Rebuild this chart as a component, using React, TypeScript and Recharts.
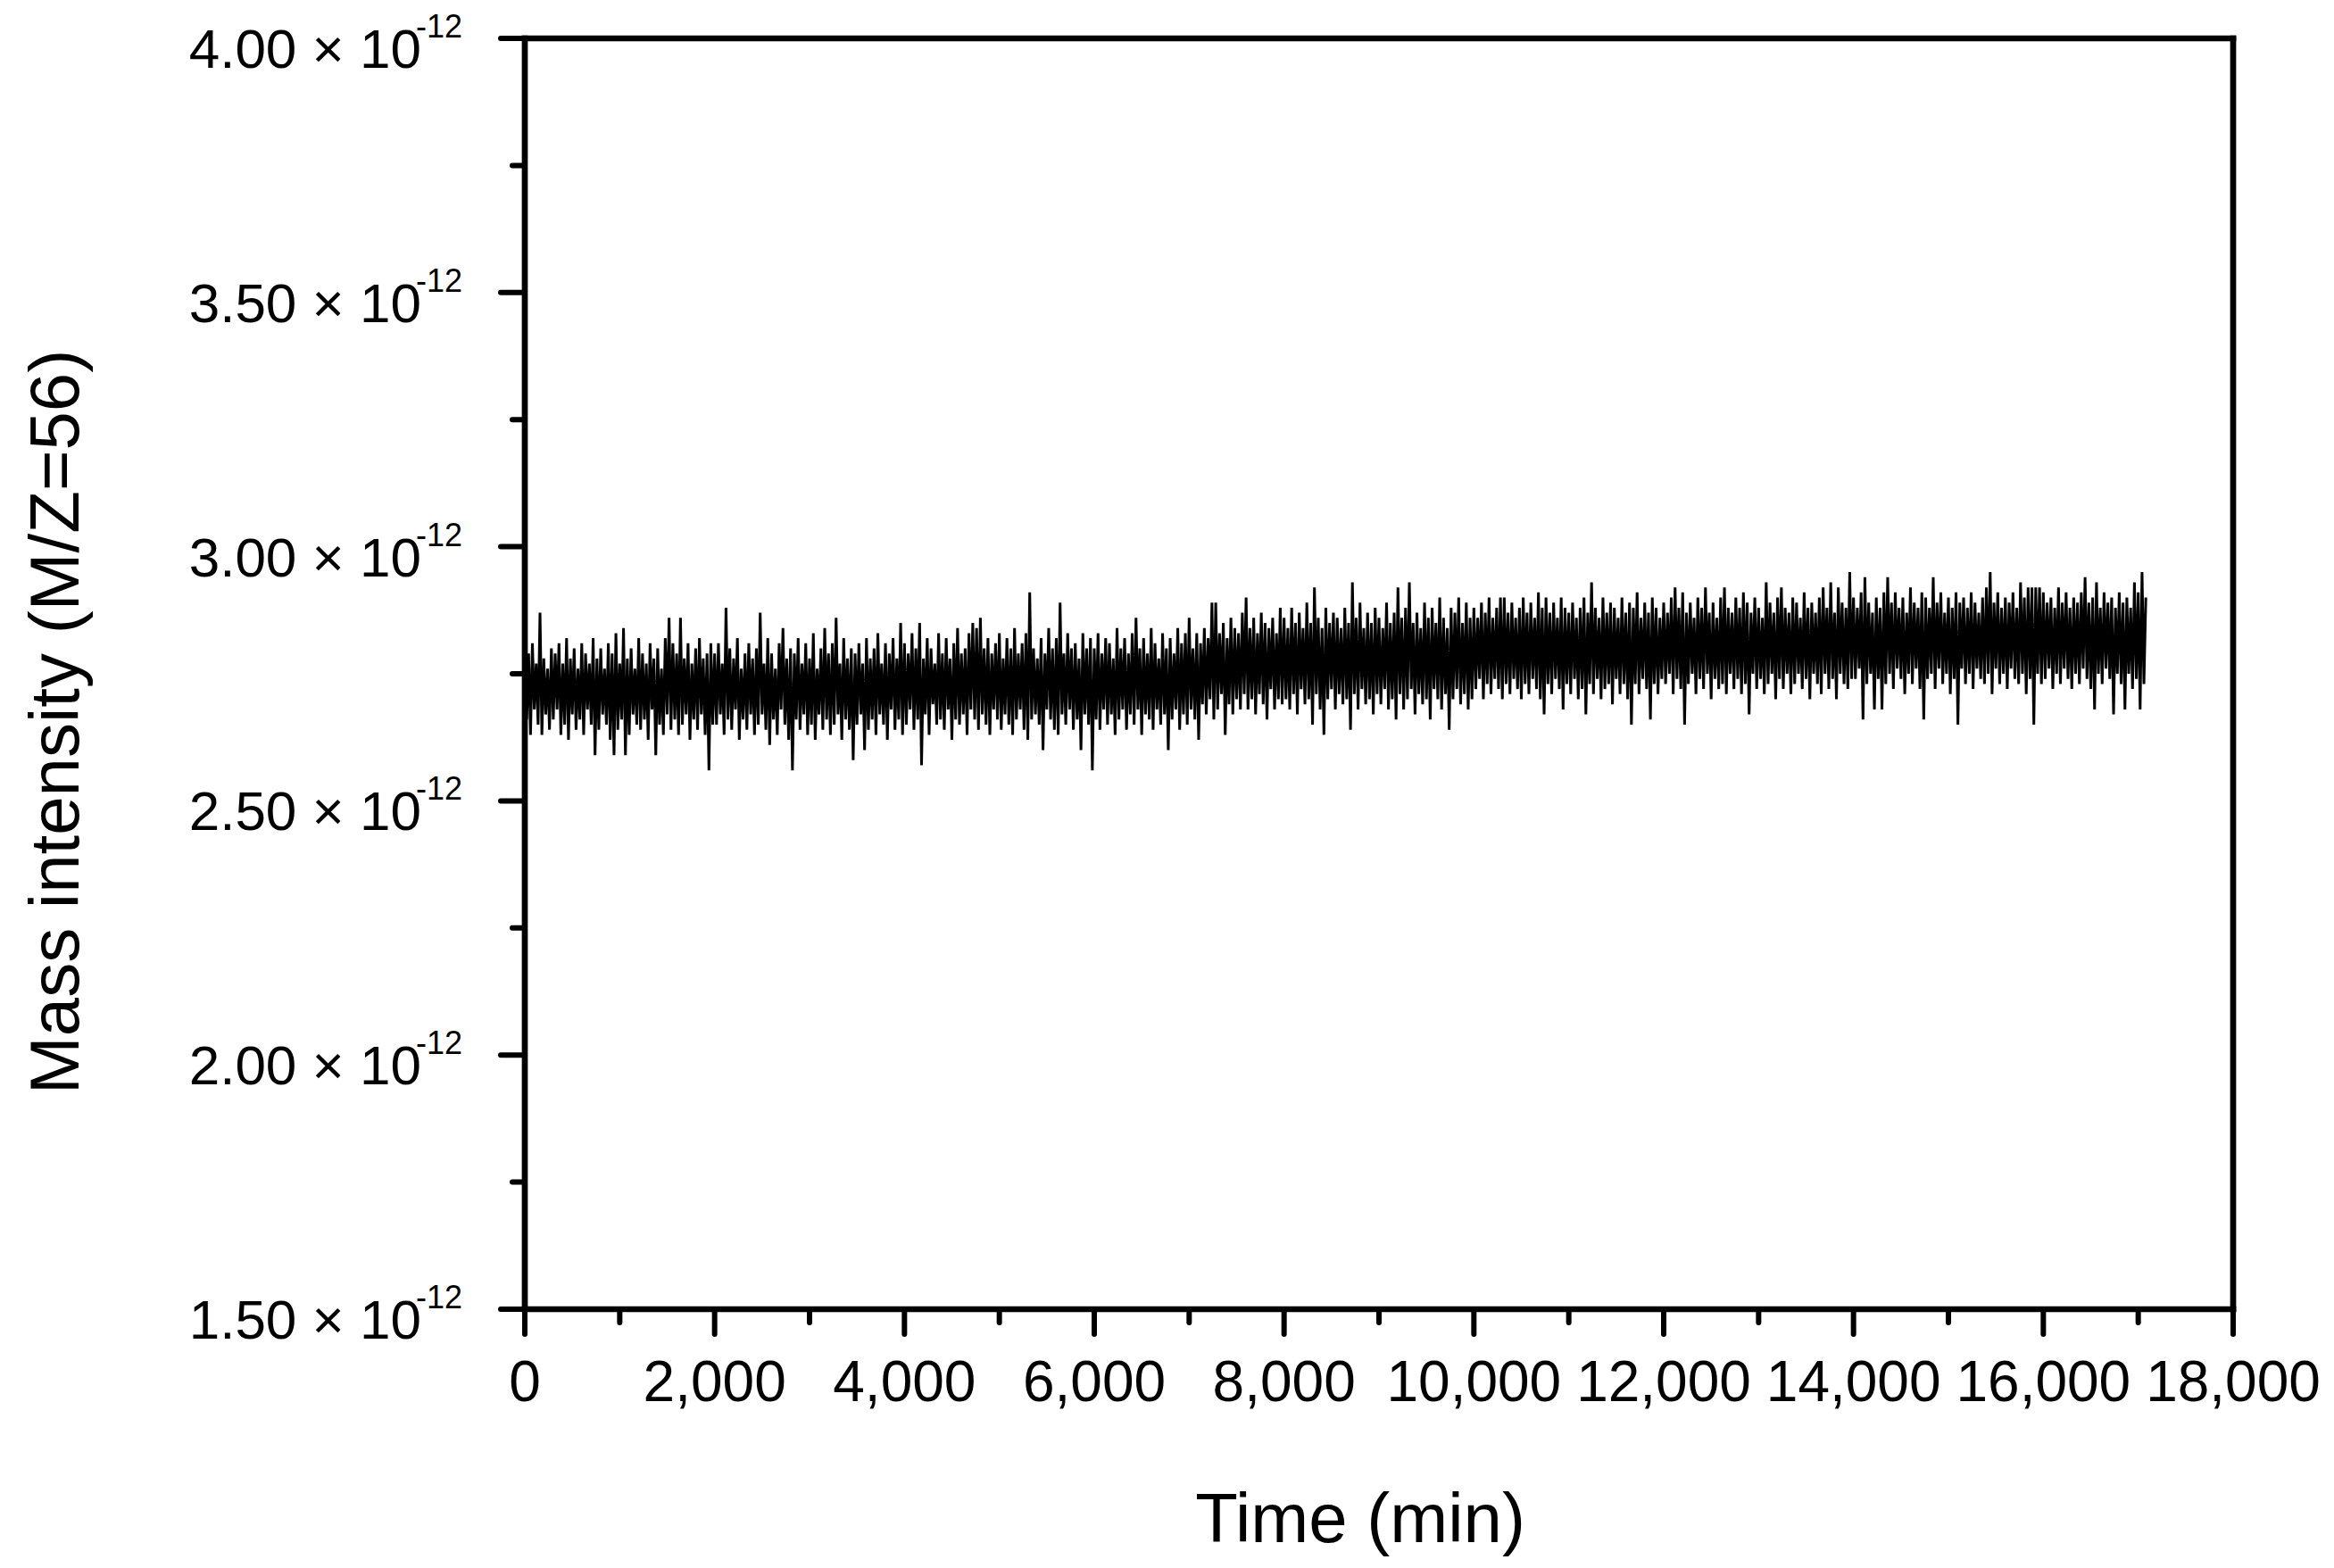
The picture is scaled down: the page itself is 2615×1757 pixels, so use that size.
import { LineChart, Line, XAxis, YAxis, ReferenceLine } from "recharts";

// M/Z=56 trace. One reading every 20 min,
// values in hundredths of 1e-12 (so 272 -> 2.72 x 10^-12).
const SAMPLE_MIN = 20;
const blockStart = [0, 2000, 4000, 6000, 8000, 10000, 12000, 14000, 16000];

const mz56_00k = [
  282, 266, 279, 263, 281, 268, 277, 265, 287, 263, 278, 267, 276, 264, 280, 266, 279, 268, 281, 263,
  277, 265, 282, 262, 278, 267, 280, 264, 276, 266, 281, 263, 279, 268, 277, 265, 282, 259, 278, 264,
  280, 267, 276, 265, 281, 262, 279, 259, 283, 264, 277, 266, 284, 259, 278, 263, 280, 267, 276, 265,
  282, 264, 279, 266, 277, 262, 281, 268, 278, 259, 280, 265, 276, 263, 282, 267, 286, 264, 281, 266,
  279, 263, 286, 265, 278, 267, 281, 262, 277, 266, 280, 264, 282, 267, 278, 263, 279, 256, 281, 265,
];
const mz56_02k = [
  279, 265, 281, 267, 277, 263, 288, 266, 280, 264, 278, 268, 282, 262, 276, 266, 279, 264, 281, 267,
  278, 263, 280, 265, 287, 267, 277, 264, 282, 261, 279, 266, 276, 263, 281, 268, 284, 265, 278, 262,
  280, 256, 279, 266, 282, 264, 277, 267, 281, 263, 278, 265, 283, 262, 276, 267, 280, 264, 284, 266,
  279, 263, 281, 265, 286, 267, 277, 262, 282, 266, 278, 264, 280, 258, 279, 265, 281, 267, 277, 260,
  282, 264, 278, 266, 280, 263, 283, 267, 277, 265, 281, 262, 279, 268, 282, 264, 278, 266, 285, 263,
];
const mz56_04k = [
  281, 265, 279, 268, 283, 264, 280, 266, 285, 257, 278, 267, 282, 263, 280, 269, 277, 265, 283, 266,
  279, 264, 282, 268, 278, 262, 281, 266, 284, 265, 279, 267, 280, 263, 283, 268, 285, 266, 284, 264,
  286, 267, 280, 265, 282, 263, 279, 268, 281, 266, 283, 264, 278, 267, 282, 265, 280, 263, 284, 266,
  279, 268, 281, 264, 283, 262, 291, 266, 280, 267, 278, 265, 282, 260, 279, 268, 284, 266, 280, 264,
  282, 263, 289, 267, 279, 265, 283, 268, 280, 264, 281, 266, 278, 260, 283, 267, 280, 265, 282, 256,
];
const mz56_06k = [
  280, 266, 283, 264, 279, 268, 282, 265, 281, 267, 278, 263, 284, 266, 280, 268, 282, 264, 279, 267,
  283, 265, 286, 268, 280, 263, 282, 267, 279, 266, 284, 264, 281, 268, 278, 265, 283, 267, 280, 260,
  282, 266, 279, 268, 284, 264, 281, 267, 283, 265, 286, 268, 280, 266, 283, 262, 281, 269, 284, 267,
  282, 270, 289, 266, 289, 268, 283, 271, 285, 263, 282, 269, 286, 267, 284, 270, 283, 268, 287, 271,
  290, 268, 284, 270, 286, 267, 283, 271, 287, 269, 285, 266, 284, 272, 286, 268, 283, 270, 288, 269,
];
const mz56_08k = [
  286, 270, 284, 268, 288, 271, 285, 267, 287, 272, 284, 269, 289, 270, 285, 265, 292, 271, 286, 268,
  284, 263, 288, 270, 285, 272, 287, 268, 286, 271, 284, 269, 288, 270, 285, 264, 293, 271, 286, 268,
  289, 272, 284, 269, 287, 270, 285, 267, 288, 271, 286, 269, 284, 272, 289, 268, 285, 270, 287, 266,
  292, 271, 286, 268, 288, 270, 293, 272, 285, 267, 287, 271, 284, 269, 289, 270, 286, 266, 288, 272,
  285, 270, 290, 268, 286, 271, 284, 264, 288, 270, 287, 272, 290, 269, 285, 271, 289, 268, 286, 270,
];
const mz56_10k = [
  288, 272, 286, 274, 289, 270, 287, 273, 290, 271, 286, 274, 288, 272, 290, 270, 290, 273, 287, 271,
  289, 274, 286, 272, 288, 270, 290, 273, 287, 271, 289, 274, 286, 272, 291, 270, 288, 267, 290, 273,
  287, 271, 289, 274, 286, 272, 290, 268, 288, 273, 287, 271, 289, 274, 286, 270, 288, 272, 290, 267,
  287, 273, 293, 271, 288, 274, 286, 270, 290, 272, 287, 273, 289, 269, 288, 274, 286, 271, 290, 273,
  287, 270, 289, 265, 288, 273, 291, 271, 286, 274, 289, 272, 287, 266, 290, 273, 288, 271, 286, 274,
];
const mz56_12k = [
  289, 273, 287, 275, 290, 271, 292, 274, 288, 272, 291, 265, 287, 273, 289, 275, 286, 271, 290, 274,
  288, 272, 292, 275, 287, 270, 289, 274, 286, 272, 290, 273, 292, 271, 288, 275, 287, 272, 290, 274,
  288, 271, 291, 273, 289, 267, 287, 275, 290, 272, 288, 274, 286, 271, 293, 273, 289, 275, 287, 270,
  290, 274, 292, 272, 288, 275, 287, 271, 290, 273, 289, 275, 286, 272, 291, 274, 288, 270, 289, 275,
  287, 273, 290, 271, 292, 275, 288, 272, 293, 274, 287, 270, 292, 275, 289, 273, 288, 272, 295, 274,
];
const mz56_14k = [
  290, 274, 288, 276, 291, 266, 294, 273, 289, 275, 287, 268, 290, 274, 288, 268, 291, 273, 294, 275,
  289, 272, 291, 276, 288, 274, 290, 271, 287, 275, 292, 273, 289, 276, 288, 272, 291, 266, 290, 274,
  288, 275, 294, 272, 289, 276, 291, 273, 287, 275, 290, 271, 288, 274, 291, 265, 289, 276, 290, 273,
  288, 275, 291, 272, 289, 276, 287, 274, 290, 273, 292, 275, 295, 271, 289, 276, 291, 273, 288, 275,
  290, 272, 289, 276, 291, 274, 288, 273, 293, 275, 290, 271, 292, 274, 292, 265, 292, 275, 292, 273,
];
const mz56_16k = [
  291, 274, 289, 276, 290, 272, 288, 275, 292, 273, 289, 276, 291, 274, 288, 272, 290, 275, 289, 273,
  291, 276, 294, 274, 289, 272, 290, 268, 293, 275, 288, 273, 291, 276, 289, 274, 290, 267, 288, 275,
  291, 273, 289, 268, 290, 275, 288, 272, 293, 274, 291, 268, 295, 273, 290,
];

const blocks = [mz56_00k, mz56_02k, mz56_04k, mz56_06k, mz56_08k, mz56_10k, mz56_12k, mz56_14k, mz56_16k];

const xTicks = [0, 1000, 2000, 3000, 4000, 5000, 6000, 7000, 8000, 9000, 10000, 11000, 12000, 13000, 14000, 15000, 16000, 17000, 18000];
const yTicks = [1.5, 1.75, 2, 2.25, 2.5, 2.75, 3, 3.25, 3.5, 3.75, 4];

const rows = blocks.flatMap((vals, b) =>
  vals.map((v, j) => ({ t: blockStart[b] + j * SAMPLE_MIN, y: v / 100 }))
);

const FONT = '"Liberation Sans", Arial, Helvetica, sans-serif';
const AXIS_W = 6.7;

function TimeTick({ x, y, payload }: any) {
  const major = payload.value % 2000 === 0;
  return (
    <g>
      <line x1={x} y1={y} x2={x} y2={y + (major ? 28 : 15)} stroke="#000" strokeWidth={6} strokeLinecap="round" />
      {major && (
        <text x={x} y={y + 103} textAnchor="middle" fontSize={64} fontFamily={FONT} fill="#000">
          {payload.value.toLocaleString("en-US")}
        </text>
      )}
    </g>
  );
}

function IntensityTick({ x, y, payload }: any) {
  const v = payload.value;
  const major = Math.round(v * 100) % 50 === 0;
  return (
    <g>
      <line x1={x} y1={y} x2={x - (major ? 27 : 14)} y2={y} stroke="#000" strokeWidth={6} strokeLinecap="round" />
      {major && (
        <text x={x - 70} y={y + 33} textAnchor="end" fontSize={62} fontFamily={FONT} fill="#000">
          <tspan>{v.toFixed(2)} × 10</tspan>
          <tspan dx={-6} dy={-34} fontSize={36}>-12</tspan>
        </text>
      )}
    </g>
  );
}

export default function App() {
  return (
    <div style={{ position: "absolute", left: 0, top: 0, width: 2615, height: 1757, background: "#fff", overflow: "hidden" }}>
      <LineChart width={2615} height={1757} data={rows} margin={{ top: 43, right: 113, bottom: 0, left: 0 }}>
        <XAxis
          type="number" dataKey="t" domain={[0, 18000]} ticks={xTicks} interval={0}
          height={290} tickSize={0} tickMargin={0} tickLine={false}
          axisLine={{ stroke: "#000", strokeWidth: AXIS_W, strokeLinecap: "square" }}
          tick={(p: any) => <TimeTick {...p} />} allowDataOverflow
        />
        <YAxis
          type="number" domain={[1.5, 4]} ticks={yTicks} interval={0}
          width={588} tickSize={0} tickMargin={0} tickLine={false}
          axisLine={{ stroke: "#000", strokeWidth: AXIS_W, strokeLinecap: "square" }}
          tick={(p: any) => <IntensityTick {...p} />} allowDataOverflow
        />
        <ReferenceLine y={4} stroke="#000" strokeWidth={AXIS_W} strokeLinecap="square" />
        <ReferenceLine x={18000} stroke="#000" strokeWidth={AXIS_W} strokeLinecap="square" />
        <Line dataKey="y" type="linear" stroke="#000" strokeWidth={3} dot={false} isAnimationActive={false} />
      </LineChart>
      <svg width={2615} height={1757} style={{ position: "absolute", left: 0, top: 0, pointerEvents: "none" }}>
        <text x={1524} y={1728} textAnchor="middle" fontSize={78} fontFamily={FONT} fill="#000">Time (min)</text>
        <text x={88} y={809} textAnchor="middle" fontSize={78} fontFamily={FONT} fill="#000" transform="rotate(-90 88 809)">
          Mass intensity (M/Z=56)
        </text>
      </svg>
    </div>
  );
}
